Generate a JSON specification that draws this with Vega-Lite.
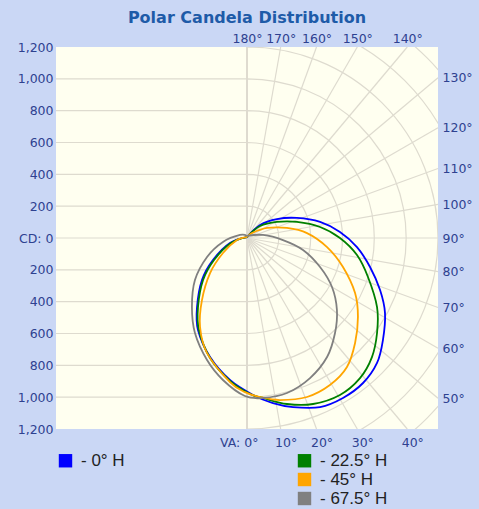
{
  "$schema": "https://vega.github.io/schema/vega-lite/v6.json",
  "width": 382,
  "height": 382,
  "autosize": {"type": "none"},
  "padding": {"left": 56, "top": 47, "right": 41, "bottom": 80},
  "background": "#cad7f5",
  "title": {"text": "Polar Candela Distribution", "font": "DejaVu Sans", "fontSize": 16, "fontWeight": "bold", "color": "#1e5ba8", "anchor": "middle", "offset": 6},
  "config": {
    "view": {"stroke": null, "fill": "#fffff0"},
    "axis": {"labelFont": "DejaVu Sans", "labelFontSize": 12.5, "labelColor": "#2e4190", "grid": false, "ticks": false, "domain": false, "labelFlush": false, "labelOverlap": false, "labelBound": false, "title": null}
  },
  "datasets": {
    "arcs": [{"r": 200}, {"r": 400}, {"r": 600}, {"r": 800}, {"r": 1000}, {"r": 1200}, {"r": 1400}, {"r": 1600}],
    "hgrid": [{"y": -1000}, {"y": -800}, {"y": -600}, {"y": -400}, {"y": -200}, {"y": 0}, {"y": 200}, {"y": 400}, {"y": 600}, {"y": 800}, {"y": 1000}],
    "radial": [
      {"a": 10, "ex": 211.6, "ey": -1200}, {"a": 20, "ex": 436.8, "ey": -1200}, {"a": 30, "ex": 692.8, "ey": -1200}, {"a": 40, "ex": 1006.9, "ey": -1200},
      {"a": 50, "ex": 1200, "ey": -1006.9}, {"a": 60, "ex": 1200, "ey": -692.8}, {"a": 70, "ex": 1200, "ey": -436.8}, {"a": 80, "ex": 1200, "ey": -211.6},
      {"a": 90, "ex": 1200, "ey": 0}, {"a": 100, "ex": 1200, "ey": 211.6}, {"a": 110, "ex": 1200, "ey": 436.8}, {"a": 120, "ex": 1200, "ey": 692.8},
      {"a": 130, "ex": 1200, "ey": 1006.9}, {"a": 140, "ex": 1006.9, "ey": 1200}, {"a": 150, "ex": 692.8, "ey": 1200}, {"a": 160, "ex": 436.8, "ey": 1200}, {"a": 170, "ex": 211.6, "ey": 1200}
    ],
    "curves": [
      {"h": "0° H", "i": 1, "x": 0, "y": 6}, {"h": "0° H", "i": 2, "x": 82, "y": 82}, {"h": "0° H", "i": 3, "x": 188, "y": 119}, {"h": "0° H", "i": 4, "x": 314, "y": 126},
      {"h": "0° H", "i": 5, "x": 459, "y": 101}, {"h": "0° H", "i": 6, "x": 584, "y": 38}, {"h": "0° H", "i": 7, "x": 691, "y": -57}, {"h": "0° H", "i": 8, "x": 773, "y": -182},
      {"h": "0° H", "i": 9, "x": 836, "y": -327}, {"h": "0° H", "i": 10, "x": 867, "y": -471}, {"h": "0° H", "i": 11, "x": 854, "y": -641}, {"h": "0° H", "i": 12, "x": 817, "y": -785},
      {"h": "0° H", "i": 13, "x": 729, "y": -911}, {"h": "0° H", "i": 14, "x": 603, "y": -1005}, {"h": "0° H", "i": 15, "x": 459, "y": -1062}, {"h": "0° H", "i": 16, "x": 289, "y": -1062},
      {"h": "0° H", "i": 17, "x": 163, "y": -1037}, {"h": "0° H", "i": 18, "x": 38, "y": -986}, {"h": "0° H", "i": 19, "x": -107, "y": -892}, {"h": "0° H", "i": 20, "x": -232, "y": -748},
      {"h": "0° H", "i": 21, "x": -308, "y": -578}, {"h": "0° H", "i": 22, "x": -314, "y": -434}, {"h": "0° H", "i": 23, "x": -283, "y": -264}, {"h": "0° H", "i": 24, "x": -214, "y": -138},
      {"h": "0° H", "i": 25, "x": -107, "y": -31}, {"h": "0° H", "i": 26, "x": 0, "y": 6},

      {"h": "22.5° H", "i": 1, "x": 0, "y": 6}, {"h": "22.5° H", "i": 2, "x": 82, "y": 75}, {"h": "22.5° H", "i": 3, "x": 188, "y": 101}, {"h": "22.5° H", "i": 4, "x": 314, "y": 101},
      {"h": "22.5° H", "i": 5, "x": 459, "y": 69}, {"h": "22.5° H", "i": 6, "x": 584, "y": 0}, {"h": "22.5° H", "i": 7, "x": 691, "y": -107}, {"h": "22.5° H", "i": 8, "x": 760, "y": -245},
      {"h": "22.5° H", "i": 9, "x": 817, "y": -434}, {"h": "22.5° H", "i": 10, "x": 817, "y": -597}, {"h": "22.5° H", "i": 11, "x": 785, "y": -748}, {"h": "22.5° H", "i": 12, "x": 710, "y": -880},
      {"h": "22.5° H", "i": 13, "x": 584, "y": -986}, {"h": "22.5° H", "i": 14, "x": 415, "y": -1043}, {"h": "22.5° H", "i": 15, "x": 251, "y": -1043}, {"h": "22.5° H", "i": 16, "x": 101, "y": -1005},
      {"h": "22.5° H", "i": 17, "x": 19, "y": -980}, {"h": "22.5° H", "i": 18, "x": -107, "y": -898}, {"h": "22.5° H", "i": 19, "x": -232, "y": -754}, {"h": "22.5° H", "i": 20, "x": -302, "y": -578},
      {"h": "22.5° H", "i": 21, "x": -308, "y": -434}, {"h": "22.5° H", "i": 22, "x": -276, "y": -264}, {"h": "22.5° H", "i": 23, "x": -207, "y": -138}, {"h": "22.5° H", "i": 24, "x": -101, "y": -31},
      {"h": "22.5° H", "i": 25, "x": 0, "y": 6},

      {"h": "45° H", "i": 1, "x": 0, "y": 6}, {"h": "45° H", "i": 2, "x": 31, "y": 31}, {"h": "45° H", "i": 3, "x": 126, "y": 63}, {"h": "45° H", "i": 4, "x": 251, "y": 63},
      {"h": "45° H", "i": 5, "x": 377, "y": 31}, {"h": "45° H", "i": 6, "x": 503, "y": -57}, {"h": "45° H", "i": 7, "x": 603, "y": -182}, {"h": "45° H", "i": 8, "x": 679, "y": -346},
      {"h": "45° H", "i": 9, "x": 697, "y": -496}, {"h": "45° H", "i": 10, "x": 679, "y": -660}, {"h": "45° H", "i": 11, "x": 628, "y": -811}, {"h": "45° H", "i": 12, "x": 521, "y": -924},
      {"h": "45° H", "i": 13, "x": 377, "y": -999}, {"h": "45° H", "i": 14, "x": 207, "y": -1018}, {"h": "45° H", "i": 15, "x": 82, "y": -999}, {"h": "45° H", "i": 16, "x": -13, "y": -968},
      {"h": "45° H", "i": 17, "x": -107, "y": -905}, {"h": "45° H", "i": 18, "x": -251, "y": -723}, {"h": "45° H", "i": 19, "x": -295, "y": -559}, {"h": "45° H", "i": 20, "x": -283, "y": -390},
      {"h": "45° H", "i": 21, "x": -232, "y": -220}, {"h": "45° H", "i": 22, "x": -151, "y": -94}, {"h": "45° H", "i": 23, "x": -63, "y": -13}, {"h": "45° H", "i": 24, "x": 0, "y": 6},

      {"h": "67.5° H", "i": 1, "x": 0, "y": 13}, {"h": "67.5° H", "i": 2, "x": 101, "y": 19}, {"h": "67.5° H", "i": 3, "x": 226, "y": -13}, {"h": "67.5° H", "i": 4, "x": 352, "y": -75},
      {"h": "67.5° H", "i": 5, "x": 459, "y": -182}, {"h": "67.5° H", "i": 6, "x": 534, "y": -308}, {"h": "67.5° H", "i": 7, "x": 565, "y": -452}, {"h": "67.5° H", "i": 8, "x": 553, "y": -597},
      {"h": "67.5° H", "i": 9, "x": 503, "y": -748}, {"h": "67.5° H", "i": 10, "x": 396, "y": -880}, {"h": "67.5° H", "i": 11, "x": 251, "y": -974}, {"h": "67.5° H", "i": 12, "x": 101, "y": -1005},
      {"h": "67.5° H", "i": 13, "x": -13, "y": -993}, {"h": "67.5° H", "i": 14, "x": -151, "y": -892}, {"h": "67.5° H", "i": 15, "x": -251, "y": -767}, {"h": "67.5° H", "i": 16, "x": -327, "y": -597},
      {"h": "67.5° H", "i": 17, "x": -346, "y": -434}, {"h": "67.5° H", "i": 18, "x": -327, "y": -264}, {"h": "67.5° H", "i": 19, "x": -251, "y": -119}, {"h": "67.5° H", "i": 20, "x": -151, "y": -25},
      {"h": "67.5° H", "i": 21, "x": -44, "y": 19}, {"h": "67.5° H", "i": 22, "x": 0, "y": 13}
    ]
  },
  "layer": [
    {
      "data": {"name": "arcs"},
      "mark": {"type": "arc", "theta": 0, "theta2": 3.14159265, "filled": false, "stroke": "#dedbcf", "strokeWidth": 1.2, "clip": true},
      "encoding": {
        "radius": {"field": "r", "type": "quantitative", "stack": null, "scale": {"type": "linear", "domain": [0, 1200], "range": [0, 191], "zero": true}}
      }
    },
    {
      "data": {"name": "hgrid"},
      "mark": {"type": "rule", "stroke": "#dedbcf", "strokeWidth": 1.2},
      "encoding": {
        "y": {"field": "y", "type": "quantitative", "scale": {"domain": [-1200, 1200], "nice": false, "zero": false},
          "axis": {"orient": "right", "values": [-1006.9, -692.8, -436.8, -211.6, 0, 211.6, 436.8, 692.8, 1006.9], "labelExpr": "format(90 + round(atan(datum.value / 1200) * 180 / PI), 'd') + '°'", "labelPadding": 4}},
        "x": {"datum": -1200, "type": "quantitative", "scale": {"domain": [-1200, 1200], "nice": false, "zero": false},
          "axis": {"orient": "top", "values": [0, 211.6, 436.8, 692.8, 1006.9], "labelExpr": "format(180 - round(atan(datum.value / 1200) * 180 / PI), 'd') + '°'", "labelPadding": 2}},
        "x2": {"datum": 0}
      }
    },
    {
      "data": {"name": "radial"},
      "mark": {"type": "rule", "stroke": "#dedbcf", "strokeWidth": 1.2},
      "encoding": {
        "x": {"field": "ex", "type": "quantitative", "axis": null},
        "y": {"field": "ey", "type": "quantitative", "axis": null},
        "x2": {"datum": 0},
        "y2": {"datum": 0}
      }
    },
    {
      "data": {"values": [{"v": 0}]},
      "mark": {"type": "rule", "stroke": "#dedbcf", "strokeWidth": 1.2},
      "encoding": {
        "x": {"field": "v", "type": "quantitative", "axis": null},
        "y": {"datum": -1200, "type": "quantitative", "axis": null},
        "y2": {"datum": 1200}
      }
    },
    {
      "data": {"name": "curves"},
      "mark": {"type": "line", "strokeWidth": 1.8, "interpolate": "cardinal"},
      "encoding": {
        "x": {"field": "x", "type": "quantitative", "scale": {"domain": [-1200, 1200], "nice": false, "zero": false},
          "axis": {"orient": "bottom", "values": [0, 211.6, 436.8, 692.8, 1006.9], "labelExpr": "datum.value == 0 ? 'VA: 0°' : format(round(atan(datum.value / 1200) * 180 / PI), 'd') + '°'", "labelPadding": 7,
            "labelAlign": {"condition": {"test": "datum.value == 0", "value": "right"}, "value": "center"},
            "labelOffset": {"condition": {"test": "datum.value == 0", "value": 11}, "value": 5}}},
        "y": {"field": "y", "type": "quantitative", "scale": {"domain": [-1200, 1200], "nice": false, "zero": false},
          "axis": {"orient": "left", "values": [-1200, -1000, -800, -600, -400, -200, 0, 200, 400, 600, 800, 1000, 1200], "labelExpr": "datum.value == 0 ? 'CD: 0' : format(abs(datum.value), ',')", "labelPadding": 3}},
        "order": {"field": "i", "type": "quantitative"},
        "color": {"field": "h", "type": "nominal",
          "scale": {"domain": ["0° H", "b1", "b2", "22.5° H", "45° H", "67.5° H"], "range": ["#0000ff", "transparent", "transparent", "#008000", "#ffa500", "#808080"]},
          "legend": {"orient": "none", "legendX": 1, "legendY": 405, "columns": 2, "columnPadding": 171, "rowPadding": 1, "title": null,
            "symbolType": "square", "symbolSize": 180, "symbolStrokeWidth": 0, "labelOffset": 7,
            "labelFont": "Liberation Sans", "labelFontSize": 17, "labelColor": "#222222",
            "labelExpr": "indexof(datum.label, 'H') < 0 ? '' : '- ' + datum.label",
            "encode": {"symbols": {"update": {"fill": {"scale": "color", "field": "value"}, "strokeWidth": {"value": 0}, "opacity": {"value": 1}}}}}
        }
      }
    }
  ],
  "resolve": {"axis": {"x": "independent", "y": "independent"}}
}
